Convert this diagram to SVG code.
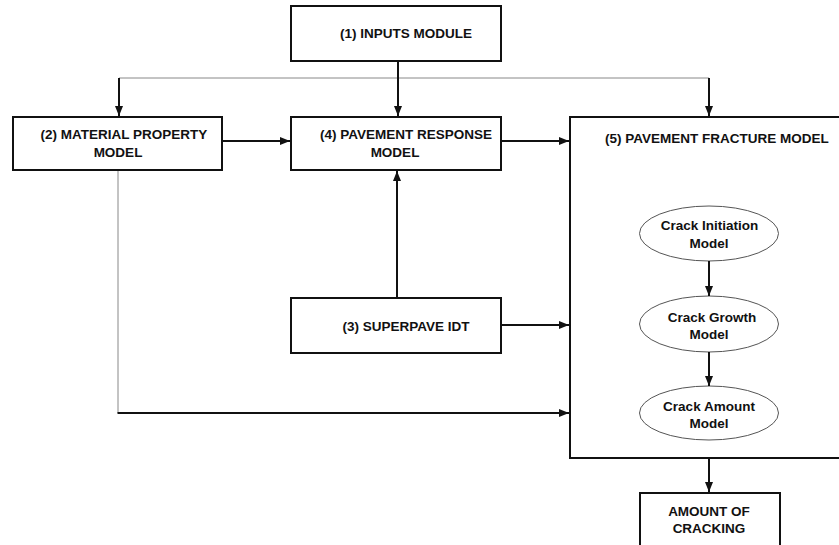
<svg xmlns="http://www.w3.org/2000/svg" width="839" height="545" viewBox="0 0 839 545">
<style>
.box{fill:#fff;stroke:#111;stroke-width:2}
.ell{fill:#fff;stroke:#555;stroke-width:1}
.t{font-family:"Liberation Sans",Arial,sans-serif;font-weight:bold;font-size:13.5px;fill:#111;text-anchor:middle}
.tl{text-anchor:start}
.k{stroke:#111;stroke-width:2;fill:none}
.g{stroke:#888;stroke-width:1;fill:none}
</style>
<defs>
<marker id="ah" markerUnits="userSpaceOnUse" markerWidth="10" markerHeight="10" viewBox="0 0 10 10" refX="10" refY="5" orient="auto">
<path d="M0,1 L10,5 L0,9 Z" fill="#111"/>
</marker>
</defs>
<rect width="839" height="545" fill="#fff"/>
<g id="n1">
<rect class="box" x="291" y="6" width="210" height="55"/>
<text class="t" x="406" y="38">(1) INPUTS MODULE</text>
</g>
<g id="n2">
<rect class="box" x="13" y="117" width="209" height="53"/>
<text class="t" x="124" y="139">(2) MATERIAL PROPERTY</text>
<text class="t" x="118" y="157">MODEL</text>
</g>
<g id="n4">
<rect class="box" x="291" y="117" width="210" height="53"/>
<text class="t" x="406" y="139">(4) PAVEMENT RESPONSE</text>
<text class="t" x="395" y="157">MODEL</text>
</g>
<g id="n3">
<rect class="box" x="291" y="298" width="210" height="55"/>
<text class="t" x="406" y="331">(3) SUPERPAVE IDT</text>
</g>
<g id="n5">
<rect class="box" x="570" y="117" width="290" height="341"/>
<text class="t tl" x="605" y="143">(5) PAVEMENT FRACTURE MODEL</text>
</g>
<g id="e1">
<ellipse class="ell" cx="709" cy="233.5" rx="69.5" ry="27.5"/>
<text class="t" x="709.5" y="230">Crack Initiation</text>
<text class="t" x="709" y="248">Model</text>
</g>
<g id="e2">
<ellipse class="ell" cx="709" cy="324" rx="69.5" ry="28"/>
<text class="t" x="712" y="322">Crack Growth</text>
<text class="t" x="709" y="339">Model</text>
</g>
<g id="e3">
<ellipse class="ell" cx="709" cy="413" rx="69.5" ry="27"/>
<text class="t" x="709" y="411">Crack Amount</text>
<text class="t" x="709" y="428">Model</text>
</g>
<g id="n6">
<rect class="box" x="640" y="493" width="140" height="70"/>
<text class="t" x="709" y="516">AMOUNT OF</text>
<text class="t" x="709" y="533">CRACKING</text>
</g>
<g id="connectors">
<line class="g" x1="119" y1="78" x2="709" y2="78"/>
<line class="k" x1="119" y1="78" x2="119" y2="116" marker-end="url(#ah)"/>
<line class="k" x1="709" y1="78" x2="709" y2="116" marker-end="url(#ah)"/>
<line class="k" x1="398" y1="62" x2="398" y2="116" marker-end="url(#ah)"/>
<line class="k" x1="223" y1="141" x2="290" y2="141" marker-end="url(#ah)"/>
<line class="k" x1="502" y1="141" x2="569" y2="141" marker-end="url(#ah)"/>
<line class="k" x1="397" y1="297" x2="397" y2="171" marker-end="url(#ah)"/>
<line class="k" x1="502" y1="325" x2="569" y2="325" marker-end="url(#ah)"/>
<line class="g" x1="118" y1="171" x2="118" y2="413"/>
<line class="k" x1="117.5" y1="413" x2="569" y2="413" marker-end="url(#ah)"/>
<line class="k" x1="709" y1="261" x2="709" y2="296" marker-end="url(#ah)"/>
<line class="k" x1="709" y1="352" x2="709" y2="386" marker-end="url(#ah)"/>
<line class="k" x1="709" y1="459" x2="709" y2="492" marker-end="url(#ah)"/>
</g>
</svg>
